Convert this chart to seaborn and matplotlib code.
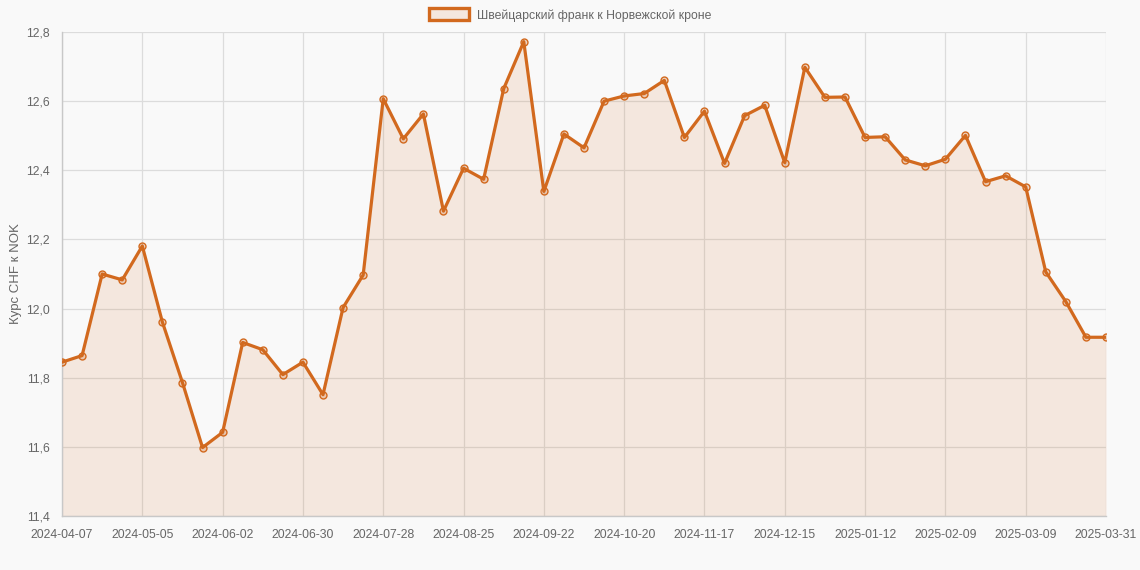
import matplotlib
matplotlib.use("Agg")
import matplotlib.pyplot as plt
import matplotlib.ticker as mticker
from matplotlib.patches import Patch
import numpy as np
import pandas as pd
import seaborn as sns

# ── Data: weekly CHF→NOK rate ─────────────────────────────────────────────────
dates = list(pd.date_range("2024-04-07", periods=52, freq="7D").strftime("%Y-%m-%d")) + ["2025-03-31"]
rates = [
    11.845, 11.864, 12.100, 12.083, 12.181, 11.961, 11.786, 11.598, 11.642, 11.902,
    11.881, 11.809, 11.845, 11.751, 12.003, 12.097, 12.607, 12.491, 12.563, 12.282,
    12.406, 12.374, 12.636, 12.772, 12.339, 12.505, 12.465, 12.600, 12.615, 12.622,
    12.660, 12.495, 12.571, 12.420, 12.558, 12.588, 12.422, 12.698, 12.611, 12.612,
    12.495, 12.497, 12.430, 12.413, 12.432, 12.501, 12.367, 12.384, 12.352, 12.106,
    12.020, 11.917, 11.917,
]
series_label = "Швейцарский франк к Норвежской кроне"
y_label = "Курс CHF к NOK"

LINE = "#d2691e"
TEXT = "#666666"
GRID = "#dcdcdc"
BG = "#f9f9f9"

sns.set_style("white")
plt.rcParams["font.family"] = ["Liberation Sans", "DejaVu Sans"]

df = pd.DataFrame({"idx": np.arange(len(rates)), "rate": rates})

fig = plt.figure(figsize=(11.4, 5.7), dpi=100, facecolor=BG)
ax = fig.add_axes([62 / 1140, 1 - 516 / 570, (1106 - 62) / 1140, (516 - 32) / 570])
ax.set_facecolor(BG)

ax.fill_between(df["idx"], df["rate"], 11.4, color=LINE, alpha=0.12, linewidth=0, zorder=1)
sns.lineplot(data=df, x="idx", y="rate", ax=ax, color=LINE, linewidth=2.3,
             marker="o", markersize=5, markeredgewidth=1.0,
             markerfacecolor=(0.82, 0.41, 0.12, 0.25), markeredgecolor=LINE, zorder=3)

ax.set_xlim(0, len(rates) - 1)
ax.set_ylim(11.4, 12.8)

tick_idx = list(range(0, 49, 4)) + [len(rates) - 1]
ax.set_xticks(tick_idx)
ax.set_xticklabels([dates[i] for i in tick_idx])
ax.yaxis.set_major_locator(mticker.MultipleLocator(0.2))
ax.yaxis.set_major_formatter(mticker.FuncFormatter(lambda v, _: f"{v:.1f}".replace(".", ",")))

ax.grid(True, color=GRID, linewidth=0.9, zorder=0)
ax.set_axisbelow(True)
for side, sp in ax.spines.items():
    sp.set_visible(side in ("left", "bottom"))
    sp.set_color("#c8c8c8")
    sp.set_linewidth(1.0)
ax.tick_params(axis="both", colors=GRID, labelcolor=TEXT, labelsize=8.8, length=6, width=0.9, pad=3)

ax.set_xlabel("")
ax.set_ylabel(y_label, color=TEXT, fontsize=9.5, labelpad=3)

handle = Patch(facecolor=(0.82, 0.41, 0.12, 0.12), edgecolor=LINE, linewidth=2.4, label=series_label)
fig.legend(handles=[handle], loc="center", bbox_to_anchor=(0.5, 1 - 15 / 570), frameon=False,
           fontsize=8.8, labelcolor=TEXT, handlelength=3.3, handleheight=1.1, handletextpad=0.6)

fig.savefig("out.png", dpi=100, facecolor=BG)
